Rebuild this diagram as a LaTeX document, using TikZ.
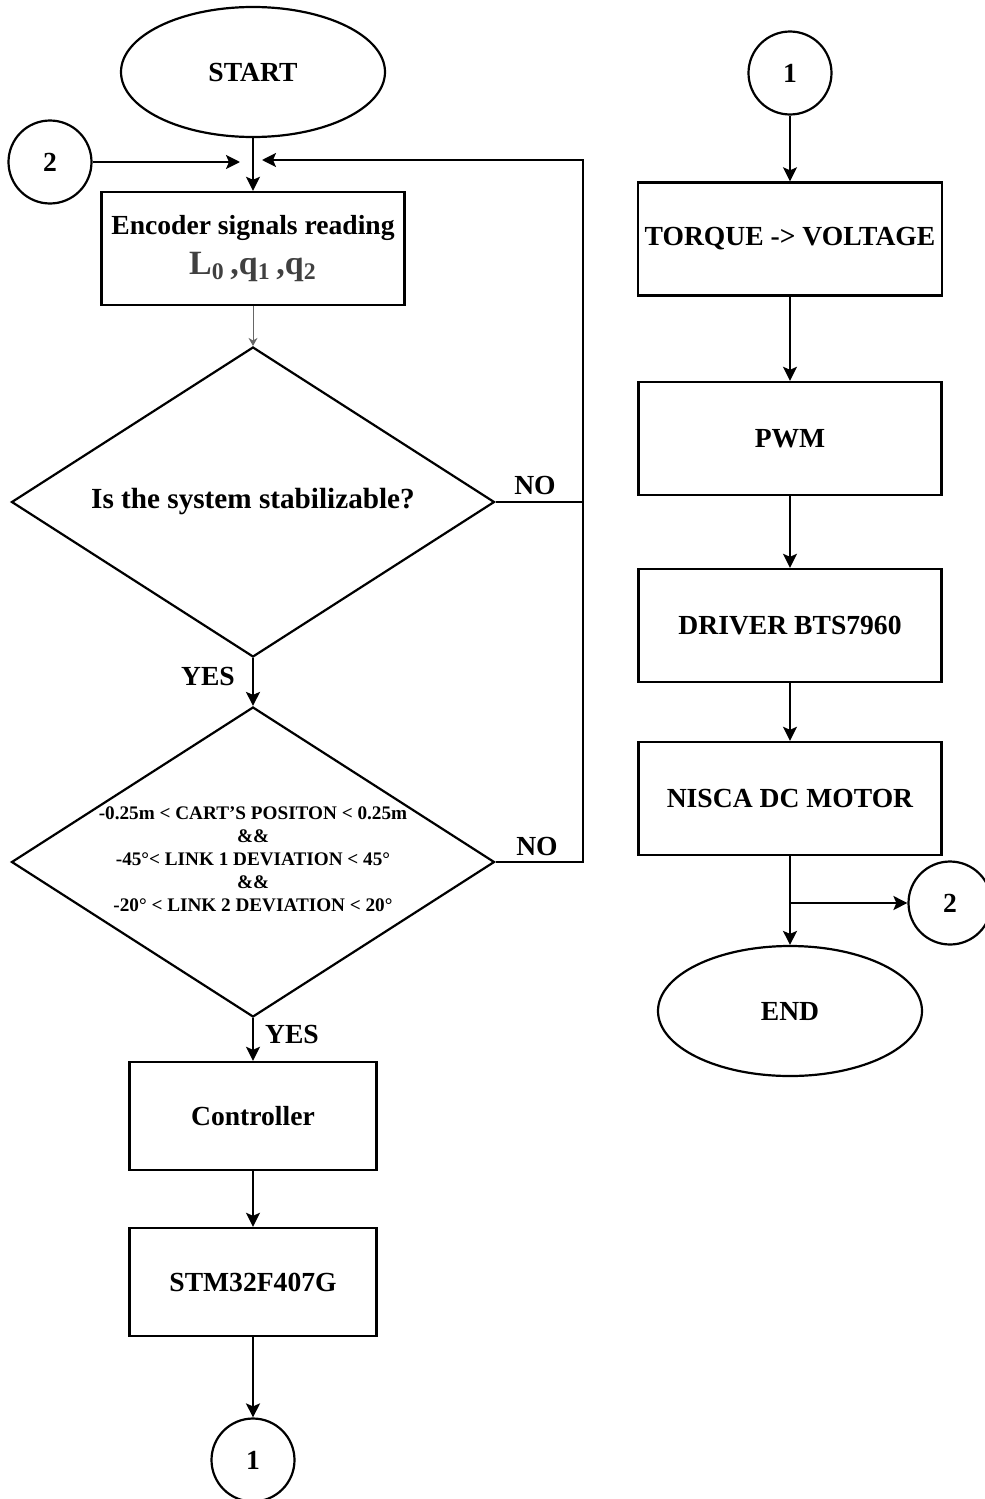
\documentclass[tikz,border=0pt]{standalone}
\usepackage{fontspec}
\setmainfont{Liberation Serif}
\usetikzlibrary{shapes.geometric,arrows.meta}
\begin{document}
\begin{tikzpicture}[x=0.5pt, y=-0.5pt,
    every node/.style={font=\bfseries\fontsize{13.8}{16}\selectfont},
    terminal/.style={ellipse,draw,line width=1.1pt,minimum width=132pt,minimum height=65pt},
    connector/.style={circle,draw,line width=1.1pt,minimum size=41.5pt,inner sep=0pt},
    process/.style={rectangle,draw,line width=1.2pt,minimum width=151.5pt,minimum height=56.5pt,align=center},
    smallproc/.style={process,minimum width=123.5pt,minimum height=54pt},
    decision/.style={diamond,draw,line width=1.1pt,minimum width=241.5pt,minimum height=155pt,inner sep=0pt},
    flow/.style={line width=1pt,-{Stealth[length=7pt,width=7pt,inset=1.5pt]}},
    line/.style={line width=1pt}]
  \useasboundingbox (0,0) rectangle (985,1499);
  % left column
  \node[terminal] (start) at (253,72) {START};
  \node[connector] (in2) at (50,162) {2};
  \coordinate (joinL) at (240,162);
  \coordinate (joinR) at (262,160);
  \node[process] (enc) at (253,248.5) {Encoder signals reading\\[4pt]
    {\fontsize{17}{20}\selectfont\color{black!75}L\textsubscript{0}\,,q\textsubscript{1}\,,q\textsubscript{2}}};
  \node[decision] (stab) at (253,502) {};
  \node[font=\bfseries\fontsize{14.6}{17}\selectfont] (stabtext) at (stab) {Is the system stabilizable?};
  \node[decision] (limits) at (253,862) {};
  \node[align=center,font=\bfseries\fontsize{9.6}{11.5}\selectfont] (limtext) at (253,859)
    {-0.25m < CART'S POSITON < 0.25m\\ \&\&\\ -45°< LINK 1 DEVIATION < 45°\\ \&\&\\ -20° < LINK 2 DEVIATION < 20°};
  \node[smallproc] (ctrl) at (253,1116) {Controller};
  \node[smallproc] (stm) at (253,1282) {STM32F407G};
  \node[connector] (out1) at (253,1460) {1};
  % right column
  \node[connector] (in1) at (790,73) {1};
  \node[process] (t2v) at (790,239) {TORQUE -> VOLTAGE};
  \node[process] (pwm) at (790,438.5) {PWM};
  \node[process] (drv) at (790,625.5) {DRIVER BTS7960};
  \node[process] (motor) at (790,798.5) {NISCA DC MOTOR};
  \node[terminal] (end) at (790,1011) {END};
  \node[connector] (out2) at (950,903) {2};
  \coordinate (split) at (790,903);
  % loop back
  \coordinate (loopA) at (583,502);
  \coordinate (loopB) at (583,862);
  \coordinate (loopTop) at (583,160);
  % edges
  \draw[flow] (start) -- (enc);
  \draw[flow] (in2) -- (joinL);
  \draw[line width=0.5pt,draw=black!60,-{Stealth[length=4pt,width=4.5pt]}] (enc) -- (stab.north);
  \draw[flow] (stab.south) -- (limits.north);
  \draw[flow] (limits.south) -- (ctrl);
  \draw[flow] (ctrl) -- (stm);
  \draw[flow] (stm) -- (out1);
  \draw[line] (stab.east) -- (loopA);
  \draw[flow] (limits.east) -- (loopB) -- (loopTop) -- (joinR);
  \draw[flow] (in1) -- (t2v);
  \draw[flow] (t2v) -- (pwm);
  \draw[flow] (pwm) -- (drv);
  \draw[flow] (drv) -- (motor);
  \draw[flow] (motor) -- (end);
  \draw[flow] (split) -- (out2);
  % labels
  \node (no1) at (535,485) {NO};
  \node (no2) at (537,846) {NO};
  \node (yes1) at (208,676) {YES};
  \node (yes2) at (292,1034) {YES};
\end{tikzpicture}
\end{document}
